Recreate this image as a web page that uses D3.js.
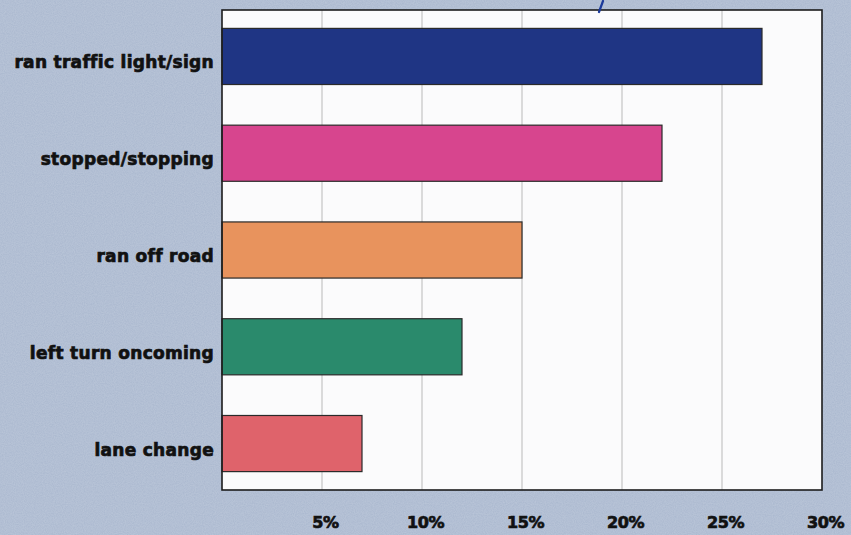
<!DOCTYPE html>
<html>
<head>
<meta charset="utf-8">
<script src="https://cdn.jsdelivr.net/npm/d3@7"></script>
<style>
  html, body { margin: 0; padding: 0; background: #b3c0d5; }
  svg { display: block; }
</style>
</head>
<body>
<svg id="chart" width="851" height="535"></svg>
<script>
// Crash types and their share of crashes (%)
const categories = ["ran traffic light/sign", "stopped/stopping", "ran off road", "left turn oncoming", "lane change"];
const shares = [27, 22, 15, 12, 7];
const barColors = ["#1f3584", "#d7458e", "#e8935d", "#2a8a6c", "#df636b"];
const tickValues = [5, 10, 15, 20, 25, 30];
const tickLabels = ["5%", "10%", "15%", "20%", "25%", "30%"];

const svg = d3.select("#chart");
const W = 851, H = 535;
const plot = { left: 222, right: 822, top: 10, bottom: 490 };
const labelFont = "DejaVu Sans, Liberation Sans, Arial, sans-serif";

// paper texture for the backdrop
const defs = svg.append("defs");
const f = defs.append("filter").attr("id", "paper").attr("x", 0).attr("y", 0).attr("width", 1).attr("height", 1);
f.append("feTurbulence").attr("type", "fractalNoise").attr("baseFrequency", 0.9).attr("numOctaves", 2).attr("seed", 3).attr("result", "noise");
f.append("feColorMatrix").attr("in", "noise").attr("type", "matrix")
  .attr("values", "0 0 0 0 0.70  0 0 0 0 0.75  0 0 0 0 0.84  0 0 0 0.55 -0.1").attr("result", "tint");
f.append("feComposite").attr("in", "tint").attr("in2", "SourceGraphic").attr("operator", "over");

svg.append("rect").attr("width", W).attr("height", H).attr("fill", "#b3c0d5");
svg.append("rect").attr("width", W).attr("height", H).attr("fill", "#a9b7ce").attr("filter", "url(#paper)").attr("opacity", 0.6);

const x = d3.scaleLinear().domain([0, 30]).range([plot.left, plot.right]);
const y = d3.scaleBand().domain(categories).range([plot.top, plot.bottom]).paddingInner(0.42).paddingOuter(0.19);

// plot area
svg.append("rect")
  .attr("x", plot.left).attr("y", plot.top)
  .attr("width", plot.right - plot.left).attr("height", plot.bottom - plot.top)
  .attr("fill", "#fbfbfc");

// vertical gridlines
svg.append("g").selectAll("line").data(tickValues.slice(0, -1)).join("line")
  .attr("x1", d => x(d)).attr("x2", d => x(d))
  .attr("y1", plot.top).attr("y2", plot.bottom)
  .attr("stroke", "#b9b9b9").attr("stroke-width", 1);

// bars
svg.append("g").selectAll("rect").data(categories).join("rect")
  .attr("x", x(0))
  .attr("y", d => y(d))
  .attr("width", (d, i) => x(shares[i]) - x(0))
  .attr("height", y.bandwidth())
  .attr("fill", (d, i) => barColors[i])
  .attr("stroke", "#2a2a2a").attr("stroke-width", 1.2);

// plot frame
svg.append("rect")
  .attr("x", plot.left).attr("y", plot.top)
  .attr("width", plot.right - plot.left).attr("height", plot.bottom - plot.top)
  .attr("fill", "none").attr("stroke", "#1c1c1c").attr("stroke-width", 1.6);

// category labels
svg.append("g").selectAll("text").data(categories).join("text")
  .attr("x", plot.left - 8)
  .attr("y", d => y(d) + y.bandwidth() / 2 + 12)
  .attr("text-anchor", "end")
  .attr("font-family", labelFont)
  .attr("font-weight", "bold")
  .attr("font-size", 17)
  .attr("letter-spacing", 0.3)
  .attr("fill", "#111")
  .attr("stroke", "#111").attr("stroke-width", 0.7)
  .text(d => d);

// x axis labels
const xAxis = d3.axisBottom(x).tickValues(tickValues).tickFormat((d, i) => tickLabels[i]).tickSize(0).tickPadding(0);
const ax = svg.append("g").attr("transform", `translate(0, ${plot.bottom})`).call(xAxis);
ax.select(".domain").remove();
ax.selectAll("text")
  .attr("y", 38)
  .attr("dy", 0)
  .attr("dx", 3)
  .attr("font-family", labelFont)
  .attr("font-weight", "bold")
  .attr("font-size", 16)
  .attr("letter-spacing", -0.4)
  .attr("fill", "#111")
  .attr("stroke", "#111").attr("stroke-width", 0.7);

// small ink stroke along the top edge
svg.append("path")
  .attr("d", d3.line()([[603, 1], [599, 12]]))
  .attr("stroke", "#1b3a9a").attr("stroke-width", 2.2).attr("stroke-linecap", "round").attr("fill", "none");
</script>
</body>
</html>
